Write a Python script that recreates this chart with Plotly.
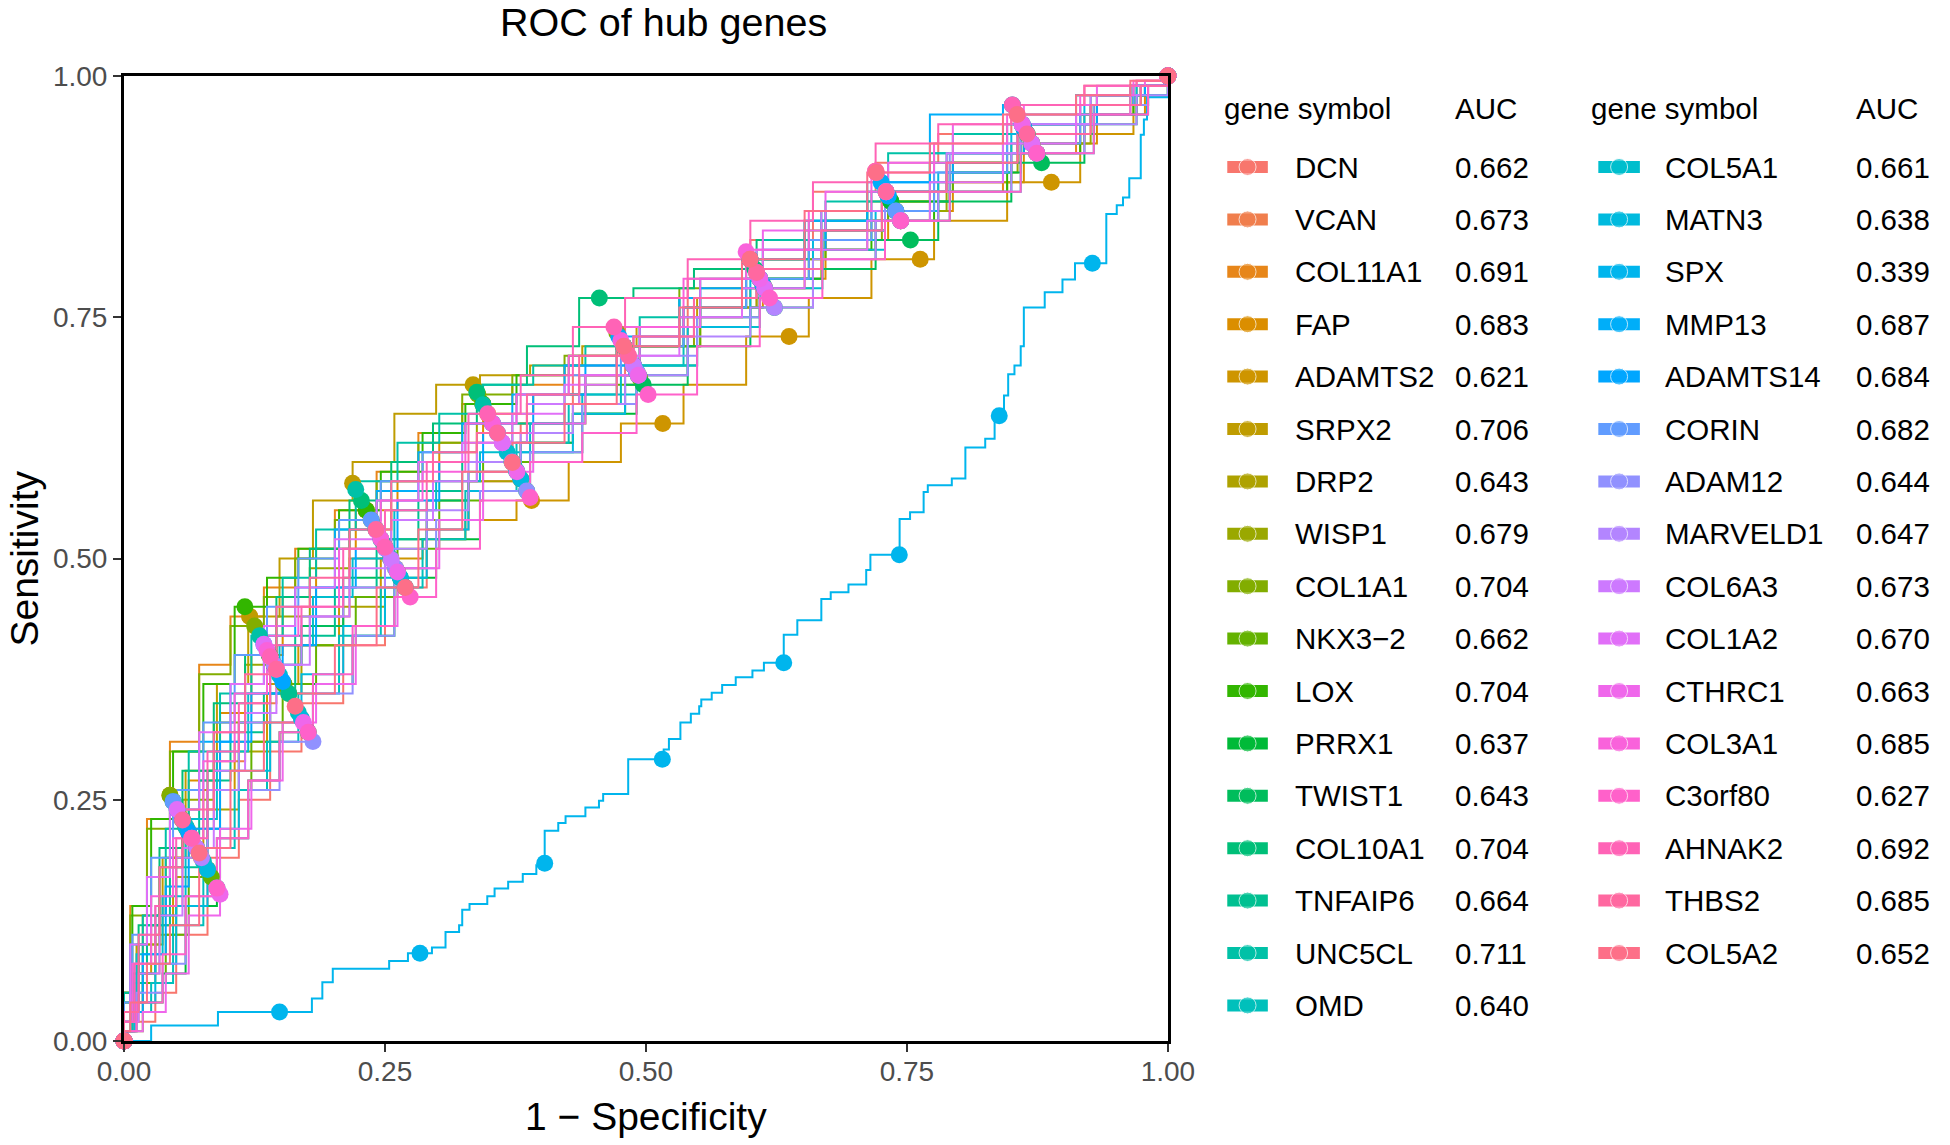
import math
import plotly.graph_objects as go

# ---- data ----
GENES = ["DCN", "VCAN", "COL11A1", "FAP", "ADAMTS2", "SRPX2", "DRP2", "WISP1", "COL1A1",
         "NKX3\u22122", "LOX", "PRRX1", "TWIST1", "COL10A1", "TNFAIP6", "UNC5CL", "OMD",
         "COL5A1", "MATN3", "SPX", "MMP13", "ADAMTS14", "CORIN", "ADAM12", "MARVELD1",
         "COL6A3", "COL1A2", "CTHRC1", "COL3A1", "C3orf80", "AHNAK2", "THBS2", "COL5A2"]
AUC = [0.662, 0.673, 0.691, 0.683, 0.621, 0.706, 0.643, 0.679, 0.704, 0.662, 0.704, 0.637,
       0.643, 0.704, 0.664, 0.711, 0.640, 0.661, 0.638, 0.339, 0.687, 0.684, 0.682, 0.644,
       0.647, 0.673, 0.670, 0.663, 0.685, 0.627, 0.692, 0.685, 0.652]

# false positive rates where the staircases step up (six sets shared by the bundle)
fpr_a = [0.010, 0.030, 0.050, 0.080, 0.110, 0.140, 0.170, 0.210, 0.250, 0.290, 0.330,
         0.380, 0.430, 0.480, 0.540, 0.600, 0.660, 0.720, 0.780, 0.850, 0.920, 0.970]
fpr_b = [0.014, 0.034, 0.056, 0.086, 0.116, 0.146, 0.178, 0.216, 0.256, 0.296, 0.338,
         0.386, 0.436, 0.488, 0.546, 0.606, 0.668, 0.726, 0.788, 0.856, 0.926, 0.974]
fpr_c = [0.006, 0.022, 0.044, 0.072, 0.102, 0.134, 0.164, 0.202, 0.242, 0.282, 0.324,
         0.372, 0.422, 0.472, 0.532, 0.592, 0.652, 0.712, 0.772, 0.842, 0.912, 0.964]
fpr_d = [0.018, 0.040, 0.062, 0.092, 0.122, 0.152, 0.184, 0.222, 0.262, 0.302, 0.344,
         0.392, 0.442, 0.494, 0.552, 0.612, 0.672, 0.732, 0.794, 0.862, 0.932, 0.978]
fpr_e = [0.008, 0.026, 0.047, 0.076, 0.106, 0.137, 0.167, 0.206, 0.246, 0.286, 0.327,
         0.376, 0.426, 0.476, 0.536, 0.596, 0.656, 0.716, 0.776, 0.846, 0.916, 0.967]
fpr_f = [0.012, 0.037, 0.059, 0.089, 0.119, 0.149, 0.181, 0.219, 0.259, 0.299, 0.341,
         0.389, 0.439, 0.491, 0.549, 0.609, 0.669, 0.729, 0.791, 0.859, 0.929, 0.981]

# sensitivity: first value is the jump at fpr 0, then one value per step above
tpr_dcn = [0.01, 0.02, 0.05, 0.11, 0.19, 0.25, 0.30, 0.35, 0.41, 0.47, 0.53, 0.58, 0.64, 0.69, 0.74, 0.79, 0.83, 0.88, 0.91, 0.94, 0.97, 0.99, 0.995]
tpr_vcan = [0.02, 0.07, 0.14, 0.22, 0.29, 0.35, 0.41, 0.44, 0.50, 0.55, 0.58, 0.62, 0.66, 0.69, 0.73, 0.76, 0.81, 0.85, 0.88, 0.91, 0.95, 0.97, 0.99]
tpr_col11a1 = [0.05, 0.14, 0.23, 0.31, 0.39, 0.44, 0.47, 0.51, 0.55, 0.59, 0.63, 0.66, 0.68, 0.70, 0.72, 0.75, 0.78, 0.82, 0.85, 0.88, 0.92, 0.96, 0.98]
tpr_fap = [0.04, 0.13, 0.19, 0.27, 0.34, 0.40, 0.46, 0.51, 0.55, 0.58, 0.62, 0.65, 0.67, 0.69, 0.72, 0.76, 0.79, 0.83, 0.86, 0.89, 0.93, 0.96, 0.99]
tpr_adamts2 = [0.01, 0.07, 0.12, 0.19, 0.26, 0.31, 0.37, 0.41, 0.46, 0.50, 0.52, 0.54, 0.56, 0.60, 0.64, 0.68, 0.73, 0.77, 0.81, 0.85, 0.89, 0.94, 0.98]
tpr_srpx2 = [0.03, 0.10, 0.19, 0.28, 0.37, 0.44, 0.50, 0.56, 0.60, 0.65, 0.68, 0.69, 0.70, 0.72, 0.74, 0.77, 0.80, 0.84, 0.87, 0.91, 0.94, 0.97, 0.99]
tpr_drp2 = [0.01, 0.06, 0.11, 0.17, 0.24, 0.30, 0.36, 0.41, 0.45, 0.49, 0.54, 0.58, 0.62, 0.65, 0.69, 0.74, 0.78, 0.82, 0.85, 0.89, 0.93, 0.96, 0.99]
tpr_wisp1 = [0.03, 0.10, 0.18, 0.25, 0.33, 0.39, 0.44, 0.49, 0.53, 0.57, 0.61, 0.64, 0.66, 0.69, 0.72, 0.76, 0.79, 0.83, 0.86, 0.90, 0.93, 0.97, 0.99]
tpr_col1a1 = [0.05, 0.13, 0.22, 0.30, 0.38, 0.43, 0.46, 0.50, 0.54, 0.58, 0.62, 0.67, 0.69, 0.71, 0.74, 0.78, 0.81, 0.84, 0.87, 0.91, 0.94, 0.97, 0.99]
tpr_nkx32 = [0.01, 0.06, 0.11, 0.17, 0.26, 0.31, 0.37, 0.41, 0.46, 0.51, 0.56, 0.60, 0.64, 0.68, 0.72, 0.77, 0.81, 0.85, 0.88, 0.92, 0.95, 0.98, 0.99]
tpr_lox = [0.05, 0.14, 0.23, 0.30, 0.37, 0.45, 0.48, 0.51, 0.55, 0.59, 0.63, 0.66, 0.69, 0.71, 0.72, 0.76, 0.79, 0.82, 0.85, 0.88, 0.92, 0.96, 0.98]
tpr_prrx1 = [0.01, 0.04, 0.07, 0.14, 0.21, 0.27, 0.32, 0.37, 0.42, 0.48, 0.52, 0.57, 0.61, 0.65, 0.70, 0.75, 0.79, 0.84, 0.87, 0.90, 0.94, 0.97, 0.99]
tpr_twist1 = [0.02, 0.07, 0.13, 0.20, 0.28, 0.33, 0.39, 0.43, 0.48, 0.52, 0.56, 0.59, 0.62, 0.65, 0.68, 0.72, 0.76, 0.80, 0.83, 0.87, 0.91, 0.95, 0.98]
tpr_col10a1 = [0.04, 0.12, 0.20, 0.28, 0.35, 0.40, 0.46, 0.51, 0.56, 0.60, 0.64, 0.68, 0.72, 0.77, 0.78, 0.80, 0.83, 0.86, 0.88, 0.92, 0.95, 0.98, 0.99]
tpr_tnfaip6 = [0.01, 0.06, 0.12, 0.18, 0.27, 0.32, 0.36, 0.42, 0.47, 0.52, 0.57, 0.60, 0.64, 0.67, 0.72, 0.77, 0.81, 0.85, 0.88, 0.91, 0.95, 0.98, 0.99]
tpr_unc5cl = [0.05, 0.13, 0.22, 0.30, 0.36, 0.42, 0.48, 0.53, 0.58, 0.62, 0.65, 0.68, 0.70, 0.72, 0.75, 0.79, 0.83, 0.87, 0.92, 0.94, 0.96, 0.98, 0.99]
tpr_omd = [0.01, 0.03, 0.06, 0.12, 0.20, 0.26, 0.31, 0.36, 0.42, 0.47, 0.52, 0.57, 0.62, 0.66, 0.70, 0.76, 0.81, 0.85, 0.88, 0.92, 0.95, 0.97, 0.99]
tpr_col5a1 = [0.02, 0.09, 0.15, 0.23, 0.30, 0.36, 0.41, 0.46, 0.50, 0.55, 0.58, 0.61, 0.64, 0.67, 0.70, 0.74, 0.78, 0.82, 0.85, 0.88, 0.92, 0.96, 0.98]
tpr_matn3 = [0.01, 0.04, 0.08, 0.14, 0.22, 0.28, 0.33, 0.38, 0.43, 0.48, 0.53, 0.57, 0.61, 0.65, 0.69, 0.74, 0.79, 0.83, 0.86, 0.90, 0.94, 0.97, 0.99]
tpr_mmp13 = [0.03, 0.10, 0.17, 0.24, 0.31, 0.37, 0.42, 0.47, 0.53, 0.57, 0.61, 0.64, 0.67, 0.70, 0.73, 0.77, 0.81, 0.85, 0.89, 0.96, 0.97, 0.98, 0.99]
tpr_adamts14 = [0.03, 0.09, 0.16, 0.22, 0.31, 0.36, 0.41, 0.47, 0.51, 0.56, 0.60, 0.63, 0.67, 0.70, 0.74, 0.78, 0.82, 0.86, 0.89, 0.92, 0.95, 0.98, 0.99]
tpr_corin = [0.04, 0.11, 0.19, 0.26, 0.33, 0.40, 0.45, 0.50, 0.54, 0.58, 0.61, 0.64, 0.67, 0.69, 0.72, 0.76, 0.79, 0.83, 0.86, 0.90, 0.93, 0.97, 0.99]
tpr_adam12 = [0.01, 0.05, 0.08, 0.15, 0.21, 0.26, 0.31, 0.36, 0.42, 0.49, 0.54, 0.57, 0.61, 0.66, 0.71, 0.75, 0.80, 0.84, 0.88, 0.92, 0.95, 0.97, 0.99]
tpr_marveld1 = [0.02, 0.08, 0.14, 0.19, 0.26, 0.33, 0.39, 0.44, 0.47, 0.51, 0.55, 0.60, 0.63, 0.66, 0.69, 0.73, 0.76, 0.81, 0.85, 0.88, 0.92, 0.95, 0.98]
tpr_col6a3 = [0.02, 0.07, 0.13, 0.20, 0.28, 0.34, 0.39, 0.44, 0.49, 0.54, 0.58, 0.62, 0.66, 0.69, 0.73, 0.77, 0.82, 0.86, 0.88, 0.92, 0.95, 0.98, 0.99]
tpr_col1a2 = [0.03, 0.10, 0.17, 0.24, 0.32, 0.37, 0.43, 0.47, 0.52, 0.56, 0.60, 0.62, 0.65, 0.68, 0.71, 0.75, 0.78, 0.82, 0.85, 0.89, 0.93, 0.96, 0.99]
tpr_cthrc1 = [0.01, 0.03, 0.07, 0.13, 0.22, 0.27, 0.33, 0.37, 0.43, 0.49, 0.54, 0.59, 0.64, 0.69, 0.74, 0.79, 0.84, 0.88, 0.91, 0.95, 0.97, 0.99, 0.995]
tpr_col3a1 = [0.02, 0.08, 0.15, 0.21, 0.29, 0.36, 0.42, 0.45, 0.51, 0.56, 0.59, 0.64, 0.67, 0.71, 0.74, 0.79, 0.82, 0.86, 0.90, 0.93, 0.96, 0.98, 0.995]
tpr_c3orf80 = [0.01, 0.04, 0.09, 0.15, 0.21, 0.27, 0.32, 0.38, 0.43, 0.46, 0.51, 0.56, 0.60, 0.63, 0.67, 0.72, 0.77, 0.81, 0.85, 0.88, 0.92, 0.96, 0.99]
tpr_ahnak2 = [0.02, 0.08, 0.14, 0.21, 0.30, 0.35, 0.41, 0.45, 0.51, 0.55, 0.60, 0.65, 0.69, 0.74, 0.77, 0.81, 0.85, 0.89, 0.93, 0.95, 0.97, 0.99, 0.995]
tpr_thbs2 = [0.03, 0.11, 0.18, 0.24, 0.32, 0.38, 0.45, 0.48, 0.53, 0.58, 0.61, 0.63, 0.67, 0.71, 0.73, 0.77, 0.80, 0.84, 0.88, 0.91, 0.94, 0.97, 0.99]
tpr_col5a2 = [0.01, 0.04, 0.08, 0.12, 0.20, 0.28, 0.33, 0.36, 0.41, 0.47, 0.53, 0.59, 0.62, 0.66, 0.72, 0.76, 0.81, 0.86, 0.90, 0.93, 0.96, 0.98, 0.995]

# SPX sits far below the others and is read step by step
spx_fpr = [0, 0.026, 0.090, 0.180, 0.190, 0.200, 0.254, 0.272, 0.295, 0.308, 0.321, 0.324,
           0.331, 0.348, 0.355, 0.368, 0.382, 0.395, 0.403, 0.416, 0.423, 0.442, 0.455, 0.459,
           0.483, 0.517, 0.522, 0.533, 0.543, 0.551, 0.553, 0.563, 0.573, 0.586, 0.602, 0.613,
           0.632, 0.645, 0.668, 0.677, 0.694, 0.711, 0.715, 0.743, 0.753, 0.766, 0.770, 0.793,
           0.806, 0.825, 0.834, 0.843, 0.847, 0.853, 0.859, 0.862, 0.882, 0.899, 0.911, 0.921,
           0.941, 0.951, 0.957, 0.963, 0.974, 0.977, 0.980, 1.000]
spx_tpr = [0, 0.016, 0.030, 0.044, 0.061, 0.075, 0.083, 0.091, 0.097, 0.113, 0.120, 0.136,
           0.142, 0.150, 0.158, 0.165, 0.173, 0.182, 0.218, 0.226, 0.233, 0.242, 0.249, 0.256,
           0.292, 0.302, 0.313, 0.330, 0.339, 0.347, 0.354, 0.361, 0.369, 0.377, 0.384, 0.392,
           0.421, 0.436, 0.458, 0.465, 0.473, 0.488, 0.504, 0.541, 0.548, 0.569, 0.576, 0.583,
           0.615, 0.624, 0.648, 0.669, 0.691, 0.700, 0.720, 0.760, 0.776, 0.789, 0.806, 0.806,
           0.857, 0.866, 0.874, 0.894, 0.939, 0.955, 0.978, 1.000]

NEG_PER_POS = 2.14   # slope of the rows of cut-off points
N_CUTS = 10          # cut-off points per curve, ends included

TICKS = [0, 0.25, 0.5, 0.75, 1]
TICK_TEXT = ["0.00", "0.25", "0.50", "0.75", "1.00"]

# ---- assemble curves ----
grids = [fpr_a, fpr_b, fpr_c, fpr_d, fpr_e, fpr_f]
bundle = [tpr_dcn, tpr_vcan, tpr_col11a1, tpr_fap, tpr_adamts2, tpr_srpx2, tpr_drp2,
          tpr_wisp1, tpr_col1a1, tpr_nkx32, tpr_lox, tpr_prrx1, tpr_twist1, tpr_col10a1,
          tpr_tnfaip6, tpr_unc5cl, tpr_omd, tpr_col5a1, tpr_matn3, None, tpr_mmp13,
          tpr_adamts14, tpr_corin, tpr_adam12, tpr_marveld1, tpr_col6a3, tpr_col1a2,
          tpr_cthrc1, tpr_col3a1, tpr_c3orf80, tpr_ahnak2, tpr_thbs2, tpr_col5a2]

curves = []
for i, tpr in enumerate(bundle):
    if tpr is None:
        curves.append((spx_fpr, spx_tpr))
        continue
    g = grids[i % len(grids)]
    assert len(tpr) == len(g) + 1, GENES[i]
    curves.append(([0, 0] + g + [1], [0] + tpr + [1]))
assert len(spx_fpr) == len(spx_tpr)


def cut_points(fpr, tpr):
    # walk the staircase and mark where the share of samples called positive hits k/(N-1)
    pts = [(fpr[0], tpr[0])]
    for j in range(1, len(fpr)):
        pts.append((fpr[j], tpr[j - 1]))
        pts.append((fpr[j], tpr[j]))
    score = [x + y / NEG_PER_POS for x, y in pts]
    total = score[-1]
    xs, ys = [], []
    for k in range(N_CUTS):
        target = total * k / (N_CUTS - 1)
        for j in range(1, len(pts)):
            if score[j] >= target - 1e-9:
                s0, s1 = score[j - 1], score[j]
                t = 0 if s1 == s0 else (target - s0) / (s1 - s0)
                xs.append(pts[j - 1][0] + t * (pts[j][0] - pts[j - 1][0]))
                ys.append(pts[j - 1][1] + t * (pts[j][1] - pts[j - 1][1]))
                break
    return xs, ys


def hcl_hex(h, c=100, l=65):
    # same conversion R's hcl() does, so the palette matches ggplot's default hues
    xn, yn, zn = 95.047, 100.0, 108.883
    un = 4 * xn / (xn + 15 * yn + 3 * zn)
    vn = 9 * yn / (xn + 15 * yn + 3 * zn)
    hr = math.radians(h)
    u, v = c * math.cos(hr), c * math.sin(hr)
    Y = yn * ((l + 16) / 116) ** 3
    up = u / (13 * l) + un
    vp = v / (13 * l) + vn
    X = 9 * Y * up / (4 * vp)
    Z = -X / 3 - 5 * Y + 3 * Y / vp
    X, Y, Z = X / 100, Y / 100, Z / 100
    rgb = [3.240479 * X - 1.537150 * Y - 0.498535 * Z,
           -0.969256 * X + 1.875992 * Y + 0.041556 * Z,
           0.055648 * X - 0.204043 * Y + 1.057311 * Z]
    out = []
    for t in rgb:
        t = 12.92 * t if t <= 0.0031308 else 1.055 * t ** (1 / 2.4) - 0.055
        out.append(max(0, min(255, round(t * 255))))
    return "#%02X%02X%02X" % tuple(out)


n = len(GENES)
colors = [hcl_hex(15 + 360 * i / n) for i in range(n)]

FONT = "Liberation Sans, Arial, Helvetica, sans-serif"
fig = go.Figure()

for (fx, fy), col, name in zip(curves, colors, GENES):
    fig.add_trace(go.Scatter(x=fx, y=fy, mode="lines", name=name, showlegend=False,
                             line=dict(color=col, width=2, shape="hv"), cliponaxis=False,
                             hoverinfo="skip"))
for (fx, fy), col, name in zip(curves, colors, GENES):
    mx, my = cut_points(fx, fy)
    fig.add_trace(go.Scatter(x=mx, y=my, mode="markers", name=name, showlegend=False,
                             marker=dict(color=col, size=17), cliponaxis=False))

# page layout in screen pixels (body margin is zeroed when the page loads)
W, H = 1950, 1145
P_LEFT, P_RIGHT, P_TOP, P_BOTTOM = 124, 1179, 76, 1041   # plot panel
LEG_LEFT, LEG_RIGHT = 1200, 1930
ML, MT = P_LEFT, P_TOP
MB = H - P_BOTTOM
MR = W - LEG_RIGHT
pw = W - ML - MR
ph = H - MT - MB
x_end = (P_RIGHT - P_LEFT) / pw


def px(X):
    return (X - P_LEFT) / pw


def py(Y):
    return (P_BOTTOM - Y) / ph


# ---- legend drawn as a small table on a hidden pixel-unit axis pair ----
ROW0, ROW_STEP, HEAD_Y = 167, 52.4, 108
LEG_FONT = dict(size=29.5, color="black", family=FONT)
cols = [dict(head=1234, k0=1239, k1=1280, name=1305, auc=1467, rows=range(0, 17)),
        dict(head=1605, k0=1614, k1=1656, name=1679, auc=1872, rows=range(17, n))]
annotations = []
for c in cols:
    for txt, x in (("gene symbol", c["head"]), ("AUC", c["auc"])):
        annotations.append(dict(x=x, y=HEAD_Y, xref="x2", yref="y2", text=txt, showarrow=False,
                                xanchor="left", yanchor="middle", font=LEG_FONT))
    for r, gi in enumerate(c["rows"]):
        yy = ROW0 + ROW_STEP * r
        fig.add_trace(go.Scatter(x=[c["k0"], (c["k0"] + c["k1"]) / 2, c["k1"]], y=[yy, yy, yy],
                                 xaxis="x2", yaxis="y2", mode="lines+markers", showlegend=False,
                                 line=dict(color=colors[gi], width=12),
                                 marker=dict(color=colors[gi], size=[0, 17, 0]),
                                 hoverinfo="skip"))
        annotations.append(dict(x=c["name"], y=yy, xref="x2", yref="y2", text=GENES[gi],
                                showarrow=False, xanchor="left", yanchor="middle", font=LEG_FONT))
        annotations.append(dict(x=c["auc"], y=yy, xref="x2", yref="y2", text=f"{AUC[gi]:.3f}",
                                showarrow=False, xanchor="left", yanchor="middle", font=LEG_FONT))

annotations += [
    dict(x=px(669), y=py(22.5), xref="paper", yref="paper", text="ROC of hub genes",
         showarrow=False, xanchor="center", yanchor="middle",
         font=dict(size=39.5, color="black", family=FONT)),
    dict(x=x_end / 2, y=py(1116), xref="paper", yref="paper", text="1 \u2212 Specificity",
         showarrow=False, xanchor="center", yanchor="middle",
         font=dict(size=39, color="black", family=FONT)),
    dict(x=px(23), y=0.5, xref="paper", yref="paper", text="Sensitivity",
         showarrow=False, textangle=-90, xanchor="center", yanchor="middle",
         font=dict(size=39, color="black", family=FONT)),
]

axis_common = dict(range=[0, 1], tickvals=TICKS, ticktext=TICK_TEXT, ticks="outside",
                   ticklen=8, tickwidth=2, tickcolor="#333333", showline=True,
                   linecolor="black", linewidth=3, mirror=True, showgrid=False,
                   zeroline=False, tickfont=dict(size=28, color="#4D4D4D", family=FONT))

fig.update_layout(
    width=W, height=H,
    margin=dict(l=ML, r=MR, t=MT, b=MB),
    paper_bgcolor="white", plot_bgcolor="white",
    font=dict(family=FONT),
    xaxis=dict(domain=[0, x_end], anchor="y", ticklabelstandoff=-5, **axis_common),
    yaxis=dict(domain=[0, 1], anchor="x", **axis_common),
    xaxis2=dict(domain=[px(LEG_LEFT), 1], range=[LEG_LEFT, LEG_RIGHT], anchor="y2",
                visible=False),
    yaxis2=dict(domain=[0, 1], range=[P_BOTTOM, P_TOP], anchor="x2", visible=False),
    annotations=annotations,
    hovermode=False,
)

fig.write_html("out.html", config={"displayModeBar": False},
               post_script="document.body.style.margin = '0';")
